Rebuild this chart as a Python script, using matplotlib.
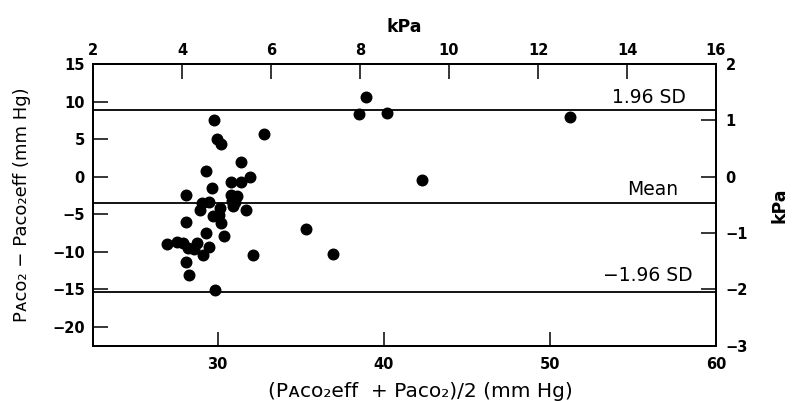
import numpy as np
import matplotlib
matplotlib.use("Agg")
import matplotlib.pyplot as plt

plt.rcParams['font.family'] = ['DejaVu Sans']

# mean of the two methods (mm Hg) and their difference (mm Hg)
mean_mmhg = [29.8, 29.94, 30.2, 32.77, 38.5, 38.93, 40.2, 51.2, 42.3,
             31.4, 29.33, 31.95, 30.8, 31.4, 29.64, 28.1, 30.8, 31.18,
             29.04, 29.5, 30.84, 31.04, 30.9, 28.93, 30.14, 31.7, 29.7,
             30.1, 28.1, 30.2, 35.3, 29.3, 30.4, 26.93, 27.55, 27.93,
             28.23, 28.73, 28.6, 29.5, 29.13, 32.14, 36.93, 28.1, 28.28, 29.84]
diff_mmhg = [7.6, 5.0, 4.4, 5.65, 8.4, 10.6, 8.45, 7.9, -0.5,
             1.9, 0.8, -0.1, -0.7, -0.75, -1.55, -2.45, -2.45, -2.55,
             -3.5, -3.4, -3.2, -3.4, -3.85, -4.5, -4.2, -4.5, -5.3,
             -5.1, -6.0, -6.2, -6.9, -7.55, -7.9, -9.0, -8.75, -8.85,
             -9.5, -8.85, -9.65, -9.3, -10.4, -10.4, -10.3, -11.4, -13.05, -15.1]

mean_diff = -3.5
upper_sd = 8.9
lower_sd = -15.4

bottom_ticks = [30, 40, 50, 60]
left_ticks = [15, 10, 5, 0, -5, -10, -15, -20]
top_ticks = [2, 4, 6, 8, 10, 12, 14, 16]
right_ticks = [2, 1, 0, -1, -2, -3]

fig = plt.figure(figsize=(7.93, 4.01), dpi=100)
ax = fig.add_axes([0.1173, 0.1379, 0.7856, 0.7025])

ax.axhline(upper_sd, color='black', lw=1.3, zorder=2)
ax.axhline(mean_diff, color='black', lw=1.3, zorder=2)
ax.axhline(lower_sd, color='black', lw=1.3, zorder=2)
ax.plot(mean_mmhg, diff_mmhg, 'o', color='black', markersize=7.6, zorder=3)

ax.text(58.2, upper_sd + 0.4, "1.96 SD", ha='right', va='bottom', fontsize=13.5)
ax.text(57.7, mean_diff + 0.5, "Mean", ha='right', va='bottom', fontsize=13.5)
ax.text(58.6, lower_sd + 1.0, "\u22121.96 SD", ha='right', va='bottom', fontsize=13.5)

ax.set_xlim(22.5, 60)
ax.set_ylim(-22.5, 15)
ax.set_xticks(bottom_ticks)
ax.set_yticks(left_ticks)
ax.tick_params(axis='x', direction='in', length=10, width=1.1, pad=8, labelsize=10.5)
ax.tick_params(axis='y', direction='in', length=11, width=1.1, pad=6, labelsize=10.5)
for lab in ax.get_xticklabels() + ax.get_yticklabels():
    lab.set_fontweight('bold')
ax.set_xlabel("(P\u1d00\u1d04\u1d0f\u2082eff  + Paco\u2082)/2 (mm Hg)", fontsize=14.5, labelpad=5)
ax.xaxis.set_label_coords(0.525, -0.13)
ax.set_ylabel("P\u1d00\u1d04\u1d0f\u2082 \u2212 Paco\u2082eff (mm Hg)", fontsize=13, labelpad=15)

# kPa scales on top and right
axt = ax.twiny()
axt.set_xlim(2, 16)
axt.set_xticks(top_ticks)
axt.tick_params(axis='x', direction='in', length=11, width=1.1, pad=4, labelsize=10.5)
for lab in axt.get_xticklabels():
    lab.set_fontweight('bold')
axt.set_xlabel("kPa", fontsize=12.5, fontweight='bold', labelpad=8)

axr = ax.twinx()
axr.set_ylim(-3, 2)
axr.set_yticks(right_ticks)
axr.tick_params(axis='y', direction='in', length=11, width=1.1, pad=7, labelsize=10.5)
for lab in axr.get_yticklabels():
    lab.set_fontweight('bold')
axr.set_ylabel("kPa", fontsize=12.5, fontweight='bold', labelpad=16)

for a in (ax, axt, axr):
    for s in a.spines.values():
        s.set_linewidth(1.3)

fig.savefig("out.png", dpi=100)
